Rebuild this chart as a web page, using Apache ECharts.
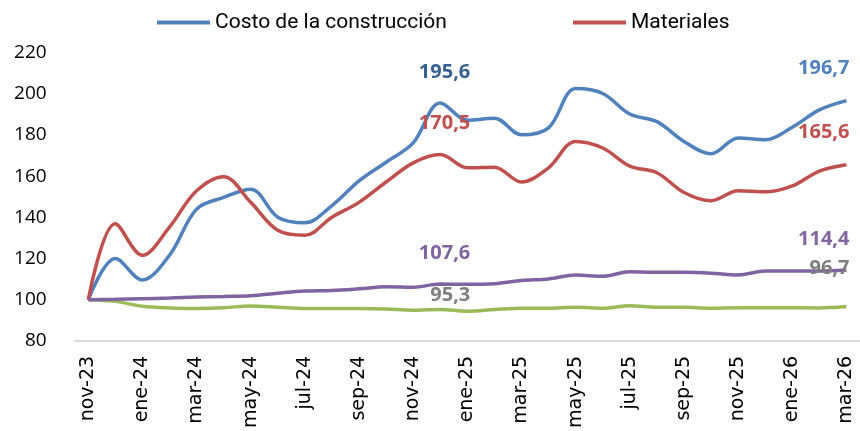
<!DOCTYPE html>
<html>
<head>
<meta charset="utf-8">
<script src="https://cdn.jsdelivr.net/npm/echarts@6/dist/echarts.min.js"></script>
<style>
  html, body { margin: 0; padding: 0; background: #fff; }
  #chart { width: 860px; height: 431px; }
</style>
</head>
<body>
<div id="chart"></div>
<script>
  // meses nov-23 .. mar-26
  const meses = ['nov-23', 'dic-23', 'ene-24', 'feb-24', 'mar-24', 'abr-24', 'may-24', 'jun-24',
    'jul-24', 'ago-24', 'sep-24', 'oct-24', 'nov-24', 'dic-24', 'ene-25', 'feb-25', 'mar-25',
    'abr-25', 'may-25', 'jun-25', 'jul-25', 'ago-25', 'sep-25', 'oct-25', 'nov-25', 'dic-25',
    'ene-26', 'feb-26', 'mar-26']

  const costo = [100, 120.0, 109.6, 121.6, 144.0, 149.7, 153.7, 140.1, 137.4, 145.7, 157.7, 166.8,
    176.2, 195.6, 187.2, 188.2, 180.1, 183.5, 202.6, 200.2, 190.2, 186.5, 176.9, 170.9, 178.6,
    177.7, 183.8, 192.2, 196.7]
  const materiales = [100, 136.9, 121.6, 135.3, 152.9, 159.8, 147.3, 133.7, 131.3, 140.1, 147.3,
    157.2, 166.5, 170.5, 164.1, 164.4, 157.2, 164.1, 176.9, 173.7, 164.9, 161.7, 152.1, 148.1,
    152.9, 152.4, 155.3, 162.5, 165.6]
  const serieMorada = [100, 100.2, 100.5, 100.8, 101.3, 101.6, 101.9, 103.2, 104.3, 104.5, 105.3,
    106.3, 106.1, 107.6, 107.5, 107.8, 109.3, 110.1, 112.0, 111.4, 113.6, 113.3, 113.3, 112.9,
    112.0, 113.9, 113.9, 113.9, 114.4]
  const serieVerde = [100, 99.2, 96.8, 96.0, 95.8, 96.1, 97.0, 96.4, 95.7, 95.7, 95.7, 95.5, 94.9,
    95.3, 94.4, 95.2, 95.9, 95.9, 96.3, 95.9, 97.1, 96.3, 96.3, 95.9, 96.1, 96.1, 96.1, 96.0, 96.7]

  // indices con etiqueta
  const idxMedio = 13
  const idxFinal = meses.length - 1

  let labelFont = 'Open Sans'

  // arma los datos con etiqueta solo en dic-24 y en el último mes
  let conEtiquetas = (vals, colorMedio, colorFinal, distMedio, distFinal) => {
    return vals.map((v, i) => {
      if (i === idxMedio) {
        return { value: v, label: { show: true, position: 'top', align: 'right', offset: [30, 0],
          distance: distMedio, color: colorMedio } }
      }
      if (i === idxFinal) {
        return { value: v, label: { show: true, position: 'top', align: 'right', offset: [3, 0],
          distance: distFinal, color: colorFinal } }
      }
      return v
    })
  }

  let linea = (name, color, data) => {
    return {
      name: name,
      type: 'line',
      data: data,
      smooth: 0.35,
      showSymbol: true,
      symbol: 'circle',
      symbolSize: 0,
      lineStyle: { color: color, width: 3.5 },
      itemStyle: { color: color },
      label: {
        show: false,
        fontFamily: labelFont,
        fontWeight: 'bold',
        fontSize: 20,
        formatter: (p) => p.value.toFixed(1).replace('.', ',')
      },
      emphasis: { disabled: true },
      z: 2
    }
  }

  let chart = echarts.init(document.getElementById('chart'))
  let option = {
    animation: false,
    backgroundColor: '#fff',
    grid: { left: 74.7, right: -3, top: 52.7, bottom: 87.7 },
    legend: [
      {
        data: ['Costo de la construcción'],
        left: 152, top: 7,
        icon: 'rect', itemWidth: 53, itemHeight: 4,
        textStyle: { fontFamily: 'Roboto', fontSize: 21, color: '#000' }
      },
      {
        data: ['Materiales'],
        left: 568, top: 7,
        icon: 'rect', itemWidth: 53, itemHeight: 4,
        textStyle: { fontFamily: 'Roboto', fontSize: 21, color: '#000' }
      }
    ],
    xAxis: {
      type: 'category',
      data: meses,
      boundaryGap: true,
      axisLine: { lineStyle: { color: '#d9d9d9', width: 2 } },
      axisTick: { show: false },
      axisLabel: {
        interval: 1,
        rotate: 90,
        margin: 15,
        fontFamily: 'DejaVu Sans',
        fontSize: 19,
        color: '#000'
      },
      splitLine: { show: false }
    },
    yAxis: {
      type: 'value',
      min: 80,
      max: 220,
      interval: 20,
      axisLine: { show: false },
      axisTick: { show: false },
      splitLine: { show: false },
      axisLabel: { margin: 28, fontFamily: 'Open Sans', fontSize: 19, color: '#000' }
    },
    series: [
      linea('Serie verde', '#9bbb59', conEtiquetas(serieVerde, '#7f7f7f', '#7f7f7f', 4, 28)),
      linea('Costo de la construcción', '#4f81bd', conEtiquetas(costo, '#376092', '#4f81bd', 21, 22)),
      linea('Materiales', '#c0504d', conEtiquetas(materiales, '#c0504d', '#c0504d', 21, 22)),
      linea('Serie morada', '#8064a2', conEtiquetas(serieMorada, '#8064a2', '#8064a2', 21, 21))
    ]
  }
  chart.setOption(option)
</script>
</body>
</html>
